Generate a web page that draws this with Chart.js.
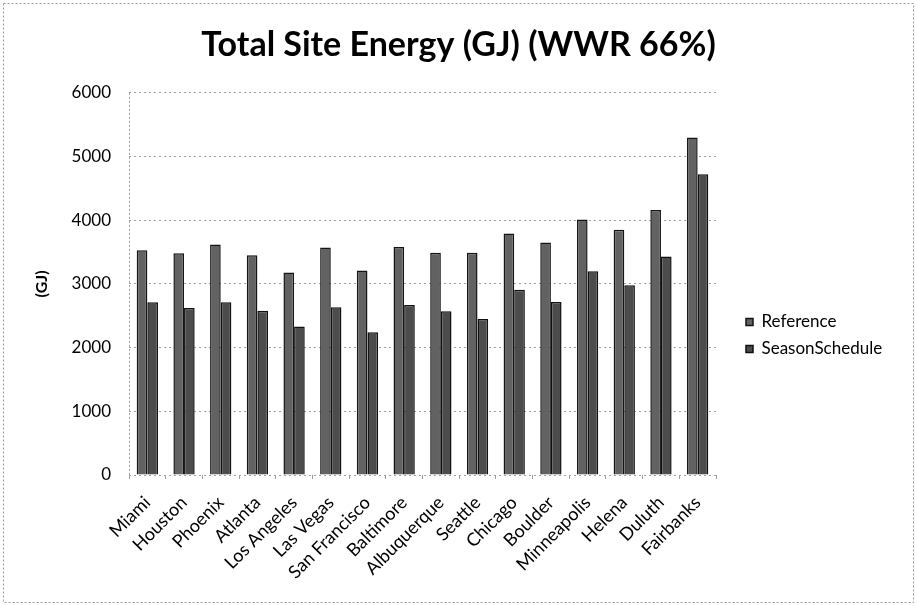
<!DOCTYPE html>
<html>
<head>
<meta charset="utf-8">
<script src="https://cdn.jsdelivr.net/npm/chart.js@4/dist/chart.umd.min.js"></script>
<style>
  body { margin: 0; background: #fff; }
</style>
</head>
<body>
<canvas id="chart" width="917" height="606"></canvas>
<script>
// cities on the x axis
const cities = ['Miami', 'Houston', 'Phoenix', 'Atlanta', 'Los Angeles', 'Las Vegas', 'San Francisco',
  'Baltimore', 'Albuquerque', 'Seattle', 'Chicago', 'Boulder', 'Minneapolis', 'Helena', 'Duluth', 'Fairbanks'];

// total site energy in GJ
const referenceGJ = [3530, 3480, 3620, 3450, 3180, 3570, 3210, 3580, 3490, 3490, 3790, 3650, 4010, 3850, 4160, 5300];
const seasonScheduleGJ = [2710, 2620, 2710, 2580, 2330, 2635, 2240, 2670, 2570, 2450, 2910, 2715, 3200, 2980, 3430, 4720];

const yTicks = [0, 1000, 2000, 3000, 4000, 5000, 6000];

// dotted frame round the whole chart
const framePlugin = {
  id: 'frame',
  beforeDraw(chart) {
    let ctx = chart.ctx;
    ctx.save();
    ctx.fillStyle = '#fff';
    ctx.fillRect(0, 0, chart.width, chart.height);
    ctx.setLineDash([2, 2]);
    ctx.strokeStyle = '#9a9a9a';
    ctx.lineWidth = 1;
    ctx.strokeRect(3.5, 3.5, chart.width - 7, chart.height - 7);
    ctx.restore();
  }
};

// keep legend 200px wide and put its items where the reference has them
const legendPlugin = {
  id: 'legendPlace',
  afterInit(chart) {
    let lg = chart.legend;
    let fit = lg.fit;
    lg.fit = function() {
      fit.call(this);
      this.width = 201;
    };
  },
  afterLayout(chart) {
    let lg = chart.legend;
    lg.left = 736;
    lg.right = 917;
    lg.top = 235;
    lg.bottom = 436;
  }
};

new Chart(document.getElementById('chart'), {
  type: 'bar',
  data: {
    labels: cities,
    datasets: [
      {
        label: 'Reference',
        data: referenceGJ,
        backgroundColor: '#626262',
        borderColor: '#141414',
        borderWidth: 1.5
      },
      {
        label: 'SeasonSchedule',
        data: seasonScheduleGJ,
        backgroundColor: '#4c4c4c',
        borderColor: '#101010',
        borderWidth: 1.5
      }
    ]
  },
  options: {
    responsive: false,
    animation: false,
    categoryPercentage: 0.58,
    barPercentage: 1,
    layout: { padding: { left: 0, right: 0, top: 0, bottom: 0 } },
    plugins: {
      title: {
        display: true,
        text: 'Total Site Energy (GJ) (WWR 66%)',
        color: '#000',
        font: { family: 'Lato', size: 34, weight: 'bold', lineHeight: 1.2 },
        padding: { top: 25, bottom: 27 }
      },
      legend: {
        position: 'right',
        align: 'center',
        labels: {
          color: '#000',
          font: { family: 'Lato', size: 17 },
          boxWidth: 7,
          boxHeight: 7,
          padding: 10
        }
      },
      tooltip: { enabled: false }
    },
    scales: {
      x: {
        afterFit(scale) { scale.height = 131; },
        grid: {
          offset: true,
          drawOnChartArea: true,
          color: c => c.index === 0 ? '#9c9c9c' : 'rgba(0,0,0,0)',
          tickColor: '#9c9c9c',
          tickLength: 4
        },
        border: { display: false, dash: [2, 2] },
        ticks: {
          color: '#000',
          font: { family: 'Lato', size: 18 },
          maxRotation: 45,
          minRotation: 45,
          autoSkip: false,
          padding: 13
        }
      },
      y: {
        min: 0,
        max: 6000,
        afterFit(scale) { scale.width = 129; },
        afterBuildTicks(scale) { scale.ticks = yTicks.map(v => ({ value: v })); },
        grid: { color: '#a0a0a0', drawTicks: false },
        border: { display: false, dash: [2, 3] },
        ticks: {
          color: '#000',
          font: { family: 'Lato', size: 17 },
          padding: 18,
          callback: v => String(v)
        },
        title: {
          display: true,
          text: '(GJ)',
          color: '#000',
          font: { family: 'Lato', size: 16, weight: 'bold' },
          padding: { top: 32, bottom: 0 }
        }
      }
    }
  },
  plugins: [framePlugin, legendPlugin]
});
</script>
</body>
</html>
